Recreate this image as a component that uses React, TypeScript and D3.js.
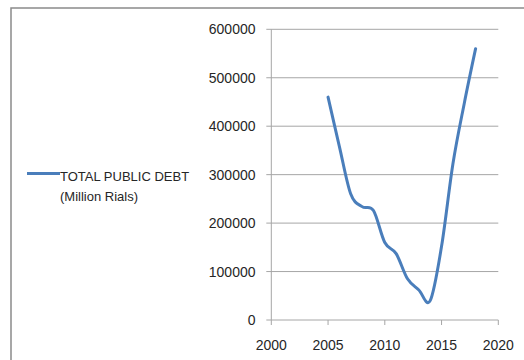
import React from "react";
import * as d3 from "d3";

const years = [2005, 2006, 2007, 2008, 2009, 2010, 2011, 2012, 2013, 2014, 2015, 2016, 2017, 2018];
const debt = [460000, 358000, 260000, 234000, 226000, 160000, 137000, 85000, 62000, 40000, 152000, 322000, 447000, 560000];
const xTicks = [2000, 2005, 2010, 2015, 2020];
const yTicks = [0, 100000, 200000, 300000, 400000, 500000, 600000];
const legendLines = ["TOTAL PUBLIC DEBT", "(Million Rials)"];

export default function App() {
  const W = 524, H = 360;
  const x = d3.scaleLinear().domain([2000, 2020]).range([271.3, 498.3]);
  const y = d3.scaleLinear().domain([0, 600000]).range([320, 29.3]);
  const data = years.map((yr, i) => [yr, debt[i]] as [number, number]);
  const line = d3.line<[number, number]>()
    .x(d => x(d[0]))
    .y(d => y(d[1]))
    .curve(d3.curveCardinal.tension(0));
  const font = "'Liberation Sans', Arial, sans-serif";
  const grid = "#a6a6a6";
  return (
    <svg width={W} height={H} style={{ position: "absolute", left: 0, top: 0, background: "#fff" }}>
      <rect x={11} y={8} width={700} height={500} fill="#fff" stroke="#8a8a8a" strokeWidth={1.5} />
      {yTicks.map(t => (
        <g key={t}>
          {t > 0 && <line x1={x(2000) - 5} x2={x(2020)} y1={y(t)} y2={y(t)} stroke={grid} strokeWidth={1} />}
          {t === 0 && <line x1={x(2000) - 5} x2={x(2000)} y1={y(t)} y2={y(t)} stroke={grid} strokeWidth={1} />}
          <text x={255.5} y={y(t) + 5} textAnchor="end" fontFamily={font} fontSize={14} fill="#262626">{t}</text>
        </g>
      ))}
      <line x1={x(2000)} x2={x(2000)} y1={y(600000)} y2={y(0)} stroke={grid} strokeWidth={1} />
      <line x1={x(2000)} x2={x(2020)} y1={y(0)} y2={y(0)} stroke={grid} strokeWidth={1} />
      {xTicks.map(t => (
        <g key={t}>
          <line x1={x(t)} x2={x(t)} y1={y(0)} y2={y(0) + 5} stroke={grid} strokeWidth={1} />
          <text x={x(t)} y={350} textAnchor="middle" fontFamily={font} fontSize={14} fill="#262626">{t}</text>
        </g>
      ))}
      <path d={line(data) || ""} fill="none" stroke="#4a7ebb" strokeWidth={3} strokeLinecap="round" strokeLinejoin="round" />
      <line x1={27} x2={60} y1={173.5} y2={173.5} stroke="#4a7ebb" strokeWidth={3} />
      {legendLines.map((s, i) => (
        <text key={s} x={60} y={180.5 + i * 20} fontFamily={font} fontSize={13} fill="#262626">{s}</text>
      ))}
    </svg>
  );
}
